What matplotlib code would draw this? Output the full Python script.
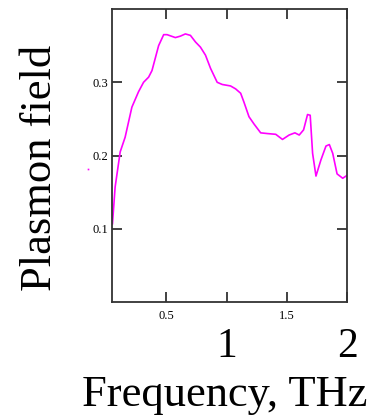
import numpy as np
import matplotlib.pyplot as plt
from matplotlib.ticker import FixedLocator, FixedFormatter

# Plasmon field vs frequency
freq = [0.053, 0.075, 0.117, 0.158, 0.214, 0.269, 0.311, 0.353, 0.381, 0.436,
        0.478, 0.506, 0.575, 0.617, 0.658, 0.700, 0.742, 0.783, 0.825, 0.867,
        0.922, 0.964, 1.033, 1.075, 1.117, 1.144, 1.186, 1.228, 1.283, 1.339,
        1.408, 1.464, 1.519, 1.567, 1.603, 1.639, 1.672, 1.694, 1.714, 1.742,
        1.783, 1.825, 1.853, 1.881, 1.917, 1.964, 2.0]
field = [0.107, 0.157, 0.205, 0.225, 0.266, 0.287, 0.300, 0.307, 0.316, 0.350,
         0.365, 0.365, 0.361, 0.363, 0.366, 0.364, 0.355, 0.348, 0.337, 0.319,
         0.300, 0.297, 0.295, 0.291, 0.285, 0.273, 0.253, 0.243, 0.231, 0.230,
         0.229, 0.222, 0.228, 0.231, 0.228, 0.235, 0.256, 0.255, 0.203, 0.172,
         0.194, 0.213, 0.215, 0.203, 0.175, 0.169, 0.173]

# stray marker left of the axis
stray_x = [-0.15]
stray_y = [0.181]

x_major = [1, 2]
x_major_labels = ['1', '2']
x_minor = [0.5, 1.5]
x_minor_labels = ['0.5', '1.5']
y_ticks = [0.1, 0.2, 0.3]
y_tick_labels = ['0.1', '0.2', '0.3']

plt.rcParams['font.family'] = ['Liberation Serif', 'DejaVu Serif']

fig = plt.figure(figsize=(3.7, 4.19), dpi=100)
ax = fig.add_axes([0.303, 0.279, 0.635, 0.6995])

ax.plot(freq, field, color='#ff00ff', lw=1.2)
ax.plot(stray_x, stray_y, 's', color='#ff00ff', ms=1.2, mew=0, clip_on=False)

ax.set_xlim(0.05, 2.0)
ax.set_ylim(0.0, 0.4)

# big labels on the whole numbers, small ones in between
ax.xaxis.set_major_locator(FixedLocator(x_major))
ax.xaxis.set_major_formatter(FixedFormatter(x_major_labels))
ax.xaxis.set_minor_locator(FixedLocator(x_minor))
ax.xaxis.set_minor_formatter(FixedFormatter(x_minor_labels))
ax.set_yticks(y_ticks)
ax.set_yticklabels(y_tick_labels)

edge = '#333333'
for s in ax.spines.values():
    s.set_color(edge)
    s.set_linewidth(1.3)

ax.tick_params(axis='both', which='both', direction='in', top=True, right=True,
               length=7, width=1.3, color=edge)
ax.tick_params(axis='x', which='major', labelsize=30, pad=18)
ax.tick_params(axis='x', which='minor', labelsize=9, pad=6)
ax.tick_params(axis='y', labelsize=9, pad=3)

ax.set_xlabel('Frequency, THz', fontsize=32)
ax.set_ylabel('Plasmon field', fontsize=32)
ax.xaxis.set_label_coords(0.479, -0.355)
ax.xaxis.label.set_va('baseline')
ax.yaxis.set_label_coords(-0.308, 0.459)
ax.yaxis.label.set_va('center')

fig.savefig('out.png', dpi=100)
